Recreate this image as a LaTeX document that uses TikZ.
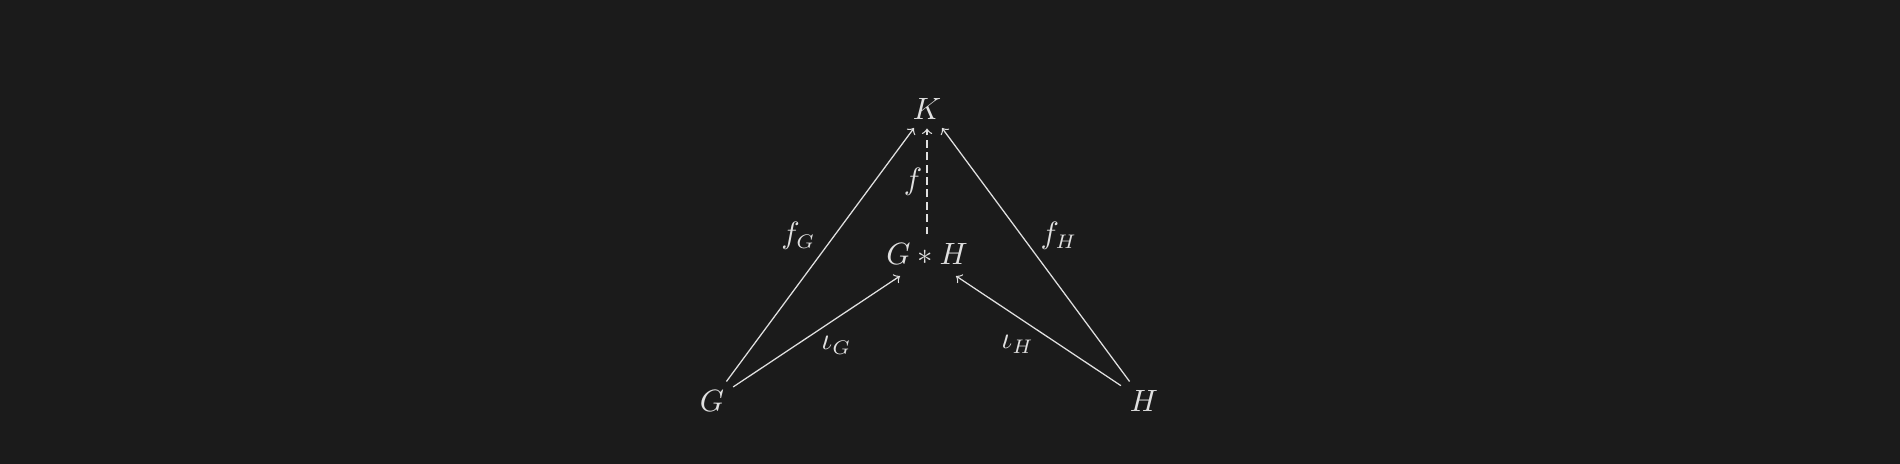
\documentclass[tikz,border=0pt]{standalone}
\usetikzlibrary{positioning}
\definecolor{bgdark}{HTML}{1B1B1B}
\definecolor{inkgray}{HTML}{E0E0E0}
\begin{document}
\begin{tikzpicture}[x=0.0125cm, y=-0.0125cm, >=to,
  group/.style={text=inkgray, inner sep=3pt, font=\fontsize{10.5}{12}\selectfont},
  mapping/.style={draw=inkgray, line width=0.45pt, ->},
  maplabel/.style={text=inkgray, inner sep=1.5pt, font=\fontsize{10.5}{12}\selectfont}]
\fill[bgdark] (0,0) rectangle (1900,464);
\useasboundingbox (0,0) rectangle (1900,464);
\node[group] (K) at (927,109) {$K$};
\node[group] (GH) at (927,254) {$G*H$};
\node[group] (G) at (712,401) {$G$};
\node[group] (H) at (1144,401) {$H$};
% end points of the arrows under K and G*H
\coordinate (K-left) at (914,128);
\coordinate (K-right) at (942,128);
\coordinate (GH-left) at (900,276);
\coordinate (GH-right) at (956,276);
\draw[mapping] (G) -- node[maplabel, above left] {$f_G$} (K-left);
\draw[mapping] (H) -- node[maplabel, above right] {$f_H$} (K-right);
\draw[mapping] (G) -- node[maplabel, below right] {$\iota_G$} (GH-left);
\draw[mapping] (H) -- node[maplabel, below left] {$\iota_H$} (GH-right);
\draw[mapping, dash pattern=on 2.8pt off 1.6pt] (GH) -- node[maplabel, left] {$f$} (K);
\end{tikzpicture}
\end{document}
